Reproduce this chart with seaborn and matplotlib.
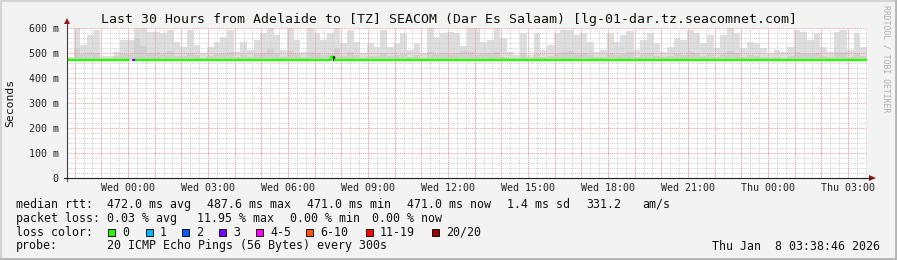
import numpy as np
import pandas as pd
import matplotlib
matplotlib.use("Agg")
import matplotlib.pyplot as plt
import seaborn as sns
from matplotlib.lines import Line2D
from matplotlib.patches import Rectangle, Polygon

# ---------------- data ----------------
title = "Last 30 Hours from Adelaide to [TZ] SEACOM (Dar Es Salaam) [lg-01-dar.tz.seacomnet.com]"
x_start_h = -2.2875          # hours relative to Wed 00:00
x_end_h = 27.7125
bin_h = 0.25                 # 15-minute smoke bins

smoke_min_ms = 471.0
smoke_max_ms = [
    485, 600, 532, 572, 592, 488, 488, 504, 552, 552,
    600, 600, 584, 584, 579, 592, 545, 525, 592, 532,
    499, 525, 545, 565, 592, 505, 545, 512, 552, 579,
    600, 572, 512, 600, 552, 505, 600, 579, 552, 579,
    600, 539, 592, 545, 499, 539, 525, 592, 525, 539,
    579, 512, 539, 499, 600, 565, 579, 585, 582, 530,
    600, 600, 545, 552, 600, 560, 505, 492, 582, 492,
    582, 512, 532, 579, 592, 592, 572, 579, 545, 505,
    512, 579, 545, 572, 588, 512, 552, 579, 539, 505,
    525, 559, 552, 592, 579, 539, 572, 519, 572, 600,
    579, 519, 545, 539, 519, 499, 512, 505, 525, 592,
    585, 552, 579, 525, 505, 585, 592, 512, 579, 525,
]
smoke_mid_ms = [
    478, 520, 495, 505, 500, 480, 480, 488, 498, 495,
    560, 530, 500, 505, 495, 510, 490, 488, 500, 492,
    482, 490, 495, 500, 505, 484, 492, 486, 495, 500,
    515, 498, 486, 510, 495, 484, 505, 500, 492, 498,
    520, 490, 505, 492, 482, 490, 488, 500, 488, 492,
    498, 486, 492, 482, 505, 496, 500, 498, 500, 510,
    505, 492, 495, 500, 505, 486, 482, 480, 495, 480,
    498, 486, 490, 500, 505, 510, 498, 500, 492, 484,
    486, 500, 492, 498, 505, 486, 495, 500, 490, 484,
    488, 495, 492, 505, 500, 490, 498, 486, 498, 510,
    500, 486, 492, 490, 486, 480, 484, 482, 488, 505,
    500, 495, 500, 488, 484, 505, 505, 486, 500, 490,
]

# median rtt segments: start hour, end hour, value (ms), loss class
median_start = [-2.2875, 0.20, 0.30, 7.60, 7.72, 7.78]
median_end   = [0.04,    0.30, 7.60, 7.72, 7.78, 27.7125]
median_value = [472,     472,  472,  486,  472,  472]
median_loss  = ["0",     "3",  "0",  "0",  "20/20", "0"]

loss_labels = ["0", "1", "2", "3", "4-5", "6-10", "11-19", "20/20"]
loss_colors = ["#26ff00", "#00b8ff", "#0059ff", "#7e00ff", "#ff00ff", "#ff5500", "#ff0000", "#a10000"]

tick_hours = [0, 3, 6, 9, 12, 15, 18, 21, 24, 27]
tick_labels = ["Wed 00:00", "Wed 03:00", "Wed 06:00", "Wed 09:00", "Wed 12:00",
               "Wed 15:00", "Wed 18:00", "Wed 21:00", "Thu 00:00", "Thu 03:00"]
y_ticks = [0, 100, 200, 300, 400, 500, 600]

legend_rows = [
    ("median rtt:", [("472.0 ms avg", 107.3), ("487.6 ms max", 207.3), ("471.0 ms min", 307.3),
                     ("471.0 ms now", 406.7), ("1.4 ms sd", 507.3), ("331.2", 586.0), ("am/s", 642.7)]),
    ("packet loss:", [("0.03 % avg", 107.3), ("11.95 % max", 197.0), ("0.00 % min", 290.0),
                      ("0.00 % now", 372.3)]),
]
loss_box_x = [108, 145.7, 182.3, 219.3, 256, 306, 366, 432]
probe_text = "20 ICMP Echo Pings (56 Bytes) every 300s"
date_text = "Thu Jan  8 03:38:46 2026"

# ---------------- figure ----------------
sns.set_theme(style="white")
MONO = "DejaVu Sans Mono"
plt.rcParams["font.family"] = [MONO, "DejaVu Sans"]

W, H = 897, 260
fig = plt.figure(figsize=(W / 100, H / 100), dpi=100, facecolor="#f3f3f3")

def fx(px):
    return px / W

def fy(py):
    return 1 - py / H

ax = fig.add_axes([fx(67), fy(178), fx(867) - fx(67), fy(28) - fy(178)])
ax.set_facecolor("white")
ax.set_xlim(x_start_h, x_end_h)
ax.set_ylim(0, 600)

# smoke
n = len(smoke_max_ms)
centers = x_start_h + bin_h * (np.arange(n) + 0.5)
smoke = pd.DataFrame({"t": centers, "hi": smoke_max_ms, "mid": smoke_mid_ms})
ax.bar(smoke["t"], smoke["hi"] - smoke_min_ms, bottom=smoke_min_ms, width=bin_h,
       color="#dedede", linewidth=0, zorder=1)
ax.bar(smoke["t"], smoke["mid"] - smoke_min_ms, bottom=smoke_min_ms, width=bin_h,
       color="#d0d0d0", linewidth=0, zorder=1.1)

# grid
dot = (0, (1.0, 1.0))
minor_t = np.arange(np.ceil(x_start_h * 3) / 3, x_end_h, 1 / 3)
for t in minor_t:
    ax.axvline(t, color="#cfcfcf", lw=0.7, ls=dot, zorder=2)
for yv in range(0, 601, 20):
    if yv % 100:
        ax.axhline(yv, color="#cfcfcf", lw=0.7, ls=dot, zorder=2)
for t in range(int(np.ceil(x_start_h)), int(x_end_h) + 1):
    ax.axvline(t, color="#f29a9a", lw=0.7, ls=dot, zorder=2.1)
for yv in y_ticks[1:]:
    ax.axhline(yv, color="#f29a9a", lw=0.7, ls=dot, zorder=2.1)

# median line
color_of = dict(zip(loss_labels, loss_colors))
prev = None
for s, e, v, l in zip(median_start, median_end, median_value, median_loss):
    c = color_of[l] if l != "20/20" else "#303030"
    sns.lineplot(x=[s, e], y=[v, v], color=c, lw=1.7, ax=ax, zorder=5, estimator=None)
    if prev is not None and abs(prev[0] - s) < 1e-6 and prev[1] != v:
        sns.lineplot(x=[s, s], y=[prev[1], v], color=c, lw=1.7, ax=ax, zorder=5,
                     estimator=None, sort=False)
    prev = (e, v)

for sp in ax.spines.values():
    sp.set_visible(False)

ax.set_xticks(tick_hours)
ax.set_xticklabels(tick_labels, fontsize=7.2, family=MONO, color="#222222")
ax.set_yticks(y_ticks)
ax.set_yticklabels([("%d m" % v) if v else "0" for v in y_ticks], fontsize=7.2,
                   family=MONO, color="#222222")
ax.tick_params(axis="x", length=2, width=0.7, color="#444444", pad=1.5, direction="out")
ax.tick_params(axis="y", length=0, pad=6)
ax.set_xlabel("")
ax.set_ylabel("")

# axes lines & arrows
fig.add_artist(Line2D([fx(67), fx(67)], [fy(181), fy(24)], color="#404040", lw=0.8))
fig.add_artist(Line2D([fx(64), fx(870)], [fy(178), fy(178)], color="#202020", lw=0.8))
fig.add_artist(Polygon([[fx(64), fy(24)], [fx(70), fy(24)], [fx(67), fy(18)]],
                       closed=True, color="#8b1a1a", lw=0))
fig.add_artist(Polygon([[fx(869), fy(175)], [fx(869), fy(181)], [fx(876), fy(178)]],
                       closed=True, color="#8b1a1a", lw=0))

# texts
fig.text(fx(448.5), fy(19.3), title, ha="center", va="center", fontsize=9.55,
         family=MONO, color="#111111")
fig.text(fx(10.5), fy(103), "Seconds", rotation=90, ha="center", va="center",
         fontsize=8.2, family=MONO, color="#111111")
fig.text(fx(886), fy(59), "RRDTOOL / TOBI OETIKER", rotation=270, ha="center",
         va="center", fontsize=5.9, family=MONO, color="#b0b0b0")

row_y = [204.3, 218.3, 232.3, 246.0]
LF = 8.4
for (label, items), yy in zip(legend_rows, row_y[:2]):
    fig.text(fx(16), fy(yy), label, ha="left", va="center", fontsize=LF, family=MONO,
             color="#111111")
    for txt, xx in items:
        fig.text(fx(xx), fy(yy), txt, ha="left", va="center", fontsize=LF, family=MONO,
                 color="#111111")

fig.text(fx(16), fy(row_y[2]), "loss color:", ha="left", va="center", fontsize=LF,
         family=MONO, color="#111111")
for lab, col, bx in zip(loss_labels, loss_colors, loss_box_x):
    fig.add_artist(Rectangle((fx(bx), fy(row_y[2] + 3.5)), fx(7), 7 / H,
                             facecolor=col, edgecolor="#111111", lw=0.7))
    fig.text(fx(bx + 14), fy(row_y[2]), lab, ha="left", va="center", fontsize=LF,
             family=MONO, color="#111111")

fig.text(fx(16), fy(row_y[3]), "probe:", ha="left", va="center", fontsize=LF,
         family=MONO, color="#111111")
fig.text(fx(107.3), fy(row_y[3]), probe_text, ha="left", va="center", fontsize=LF,
         family=MONO, color="#111111")
fig.text(fx(880), fy(row_y[3]), date_text, ha="right", va="center", fontsize=LF,
         family=MONO, color="#111111")

# frame
fig.add_artist(Line2D([0, 1], [fy(0.8), fy(0.8)], color="#d4d4d4", lw=1.5))
fig.add_artist(Line2D([fx(0.8), fx(0.8)], [0, 1], color="#d4d4d4", lw=1.5))
fig.add_artist(Line2D([0, 1], [fy(258.8), fy(258.8)], color="#b4b4b4", lw=2))
fig.add_artist(Line2D([fx(895.8), fx(895.8)], [0, 1], color="#b4b4b4", lw=2))

fig.savefig("out.png", dpi=100, facecolor=fig.get_facecolor())
